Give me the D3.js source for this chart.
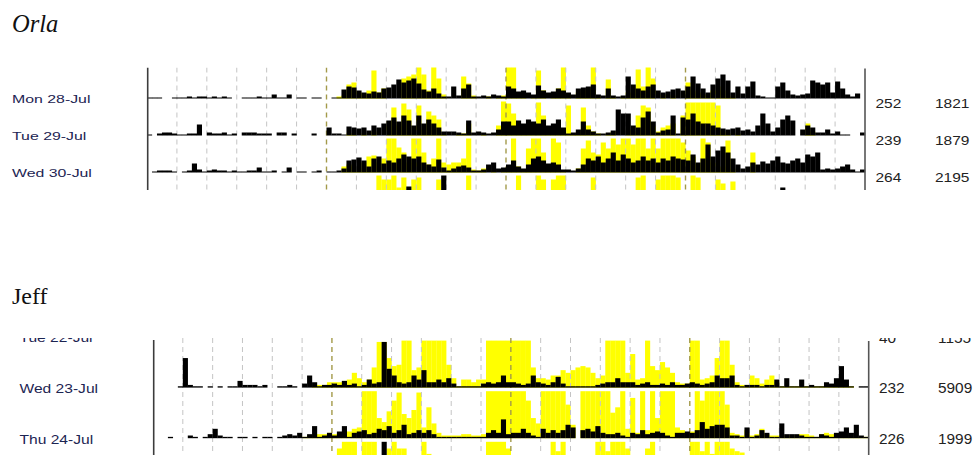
<!DOCTYPE html>
<html>
<head>
<meta charset="utf-8">
<script src="https://cdn.jsdelivr.net/npm/d3@7"></script>
<style>
  body { margin: 0; background: #fff; }
  svg { display: block; }
</style>
</head>
<body>
<div id="chart"></div>
<script>
// Each day string: 24 hour groups of 6 ten-minute bins.
// One char per bin, base-36 height (0 = nothing, z = full row height).

var orlaDays = ["Mon 28-Jul", "Tue 29-Jul", "Wed 30-Jul", "Thu 31-Jul"];
var orlaCountA = ["252", "239", "264", ""];
var orlaCountB = ["1821", "1879", "2195", ""];
var orlaActivity = [
  "111001 112122 121210 011121 141140 110110 0119cb 86576a bejgik f97a52 2c3ae2 232432 ca7864 d867a8 64abce 43a323 mea8ce 8679a8 cmfa6e koi6c5 ch3211 cg8434 5igeg6 ha4250",
  "102332 1122b0 322312 033322 203302 000200 822198 785a8c fiekfa kcgc84 4432f3 43236e eafcge cgacg8 236e64 2235qm ma8ioe 356k2i gmecca 876785 64amc4 8gkf06 a83362 411003",
  "012221 012931 232212 112251 120150 110120 1124cd fc6eg9 caeige ga86d5 246752 238a45 8c648e gc9a83 3248ec gaekci eacgce aecged ciaesg mqke84 6a8b9c ga9cea igk343 468313",
  "000000 000000 000000 000000 000000 000000 000000 000000 0000n0 00000y 000000 000000 000000 000000 000000 000000 000000 000000 000000 000000 000000 0m0000 000000 000000"
];
var orlaLight = [
  "000000 000000 000000 000000 000000 000000 0023eg 648s6a 000kmo wo8wk4 000mf3 002023 ww6302 s806aw 4068aw 20j202 6atcwk 040300 g86448 c82200 000000 000000 000000 000000",
  "000000 000000 000000 000000 000000 000000 000022 020400 esawq2 u6okg2 0022c0 0200ay wm6246 xk84a4 u24sa4 202400 64kusa 48ac0k xxxxxx u42020 000000 000000 c40000 000000",
  "000000 000000 000000 000000 000000 000000 000686 4aghae yypkay yk8eya 8aaey3 240202 6y62oy yk6yu2 004owk iuoysy ysyyoy oyyyyu mg8yua 46w400 0k0000 000000 000000 000000",
  "000000 000000 000000 000000 000000 000000 000000 0000yu uymw0u w000u0 0000y0 000000 00y000 yu0uyy 00000w 000000 00wy00 uyyyw0 0yw000 uq0s00 000000 000000 000000 000000"
];

var jeffDays = ["Tue 22-Jul", "Wed 23-Jul", "Thu 24-Jul", "Fri 25-Jul"];
var jeffCountA = ["40", "232", "226", ""];
var jeffCountB = ["1155", "5909", "1999", ""];
var jeffActivity = [
  "",
  "000001 m21101 010115 222120 011210 394122 325231 2634ye 943496 d44647 311111 343494 432394 324831 111112 344744 423422 324223 432349 779212 221226 171161 211437 g61011",
  "000100 021013 721101 101011 012324 139124 259145 634769 46a346 463111 111111 1464e3 447421 74646a 806759 433421 436345 421445 46c79a a82218 126411 b33321 113214 584a21",
  "000000 000000 000000 000000 000000 000000 000000 0000z0 000000 000000 000000 000000 000000 000000 000000 000000 000000 000000 000000 000000 000000 000000 000000 000000"
];
var jeffLight = [
  "",
  "000000 000000 000000 000000 000000 001224 4456b7 46fyym ghzzdf zzzzzh 716646 6zzzzz zzzzf7 7699db dfgfb7 9zzzzb p67zgd jfb433 zz679m zzh422 973694 111111 111111 221000",
  "000000 000000 000000 000000 000000 122334 344578 zzzfck syifly 8nb422 223322 3zzzzz zzzsfb zzzzzp a0zzzz zzjnz7 u4z6zf zzz864 5zszzz zp4326 237322 222233 213431 111111",
  "000000 000000 000000 000000 000000 000000 0uzzz0 zzz00u zuu000 zq0000 000000 0zzzzu 000000 00zsz0 00000z zszzzu 000uz0 000000 zzszqz zzusr0 000000 000000 000000 000000"
];

var hourLines = d3.range(1, 24);
var markedHours = [6, 12, 18];

function bins(s) {
    return s.replace(/\s+/g, "").split("").map(function(c) { return parseInt(c, 36); });
}

var svg = d3.select("#chart").append("svg")
    .attr("width", 974)
    .attr("height", 455);

function drawPanel(p) {
    var x = d3.scaleLinear().domain([0, 144]).range([p.x0, p.x1]);
    var h = d3.scaleLinear().domain([0, 35]).range([0, p.hMax]);
    var bw = x(1) - x(0);
    var base = function(i) { return p.base0 + i * p.pitch; };

    // title
    svg.append("text")
        .attr("x", 12)
        .attr("y", p.titleY)
        .style("font-family", "'Liberation Serif', serif")
        .style("font-style", p.italic ? "italic" : "normal")
        .style("font-size", p.titleSize + "px")
        .style("fill", "#111")
        .text(p.title);

    svg.append("clipPath").attr("id", "clip-" + p.id)
        .append("rect")
        .attr("x", 0).attr("y", p.top)
        .attr("width", 974).attr("height", p.bottom - p.top);

    var g = svg.append("g").attr("clip-path", "url(#clip-" + p.id + ")");

    // light (yellow) first, activity (black) on top
    p.light.forEach(function(s, i) {
        g.append("g").selectAll("rect")
            .data(bins(s).map(function(v, j) { return {j: j, v: v}; }).filter(function(d) { return d.v > 0; }))
            .enter().append("rect")
            .attr("x", function(d) { return x(d.j); })
            .attr("width", bw + 0.15)
            .attr("y", function(d) { return base(i) - h(d.v); })
            .attr("height", function(d) { return h(d.v); })
            .attr("fill", "#ffff00");
    });

    // hour grid
    g.append("g").selectAll("line")
        .data(hourLines)
        .enter().append("line")
        .attr("x1", function(d) { return x(d * 6); })
        .attr("x2", function(d) { return x(d * 6); })
        .attr("y1", p.top)
        .attr("y2", p.bottom)
        .attr("stroke", function(d) { return markedHours.indexOf(d) >= 0 ? "#a39a4a" : "#c4c4c4"; })
        .attr("stroke-width", function(d) { return markedHours.indexOf(d) >= 0 ? 1.4 : 1; })
        .attr("stroke-dasharray", "5,4");

    p.activity.forEach(function(s, i) {
        g.append("g").selectAll("rect")
            .data(bins(s).map(function(v, j) { return {j: j, v: v}; }).filter(function(d) { return d.v > 0; }))
            .enter().append("rect")
            .attr("x", function(d) { return x(d.j); })
            .attr("width", bw + 0.15)
            .attr("y", function(d) { return base(i) - h(d.v); })
            .attr("height", function(d) { return h(d.v); })
            .attr("fill", "#000");
    });

    // side axes
    g.append("line")
        .attr("x1", p.x0 + 0.7).attr("x2", p.x0 + 0.7)
        .attr("y1", p.axisTop).attr("y2", p.bottom)
        .attr("stroke", "#3c3c3c").attr("stroke-width", 1.6);
    g.append("line")
        .attr("x1", p.x1).attr("x2", p.x1)
        .attr("y1", p.axisTop + 1).attr("y2", p.bottom)
        .attr("stroke", "#555").attr("stroke-width", 1.6);

    // day labels and counts (rows whose text falls below the panel are not drawn)
    p.days.forEach(function(d, i) {
        if (base(i) + p.labelDy - 9 > p.bottom) return;
        g.append("text")
            .attr("transform", "translate(" + p.labelX + "," + (base(i) + p.labelDy) + ") scale(" + p.labelStretch + ",1)")
            .style("font-family", "'Liberation Sans', Arial, sans-serif")
            .style("font-size", p.labelSize + "px")
            .style("fill", "#1c2452")
            .text(d);
        g.append("text")
            .attr("transform", "translate(" + p.numAX + "," + (base(i) + p.numDy) + ") scale(" + p.numStretch + ",1)")
            .style("font-family", "'Liberation Sans', Arial, sans-serif")
            .style("font-size", p.numSize + "px")
            .style("fill", "#222")
            .text(p.countA[i]);
        g.append("text")
            .attr("transform", "translate(" + p.numBX + "," + (base(i) + p.numDy) + ") scale(" + p.numStretch + ",1)")
            .style("font-family", "'Liberation Sans', Arial, sans-serif")
            .style("font-size", p.numSize + "px")
            .style("fill", "#222")
            .text(p.countB[i]);
    });
}

drawPanel({
    id: "orla", title: "Orla", italic: true, titleY: 32, titleSize: 24.5,
    x0: 147, x1: 865, top: 67.5, bottom: 190, axisTop: 67.5,
    base0: 98.5, pitch: 37, hMax: 35,
    days: orlaDays, countA: orlaCountA, countB: orlaCountB,
    activity: orlaActivity, light: orlaLight,
    labelX: 12, labelDy: 4, labelSize: 11.5, labelStretch: 1.38,
    numAX: 875.5, numBX: 935, numDy: 9, numSize: 12.5, numStretch: 1.24
});

drawPanel({
    id: "jeff", title: "Jeff", italic: false, titleY: 304, titleSize: 24,
    x0: 153, x1: 868.7, top: 338, bottom: 455, axisTop: 340,
    base0: 337, pitch: 50.6, hMax: 47,
    days: jeffDays, countA: jeffCountA, countB: jeffCountB,
    activity: jeffActivity, light: jeffLight,
    labelX: 19.5, labelDy: 5.3, labelSize: 13, labelStretch: 1.2,
    numAX: 879, numBX: 938, numDy: 5.5, numSize: 14, numStretch: 1.1
});
</script>
</body>
</html>
